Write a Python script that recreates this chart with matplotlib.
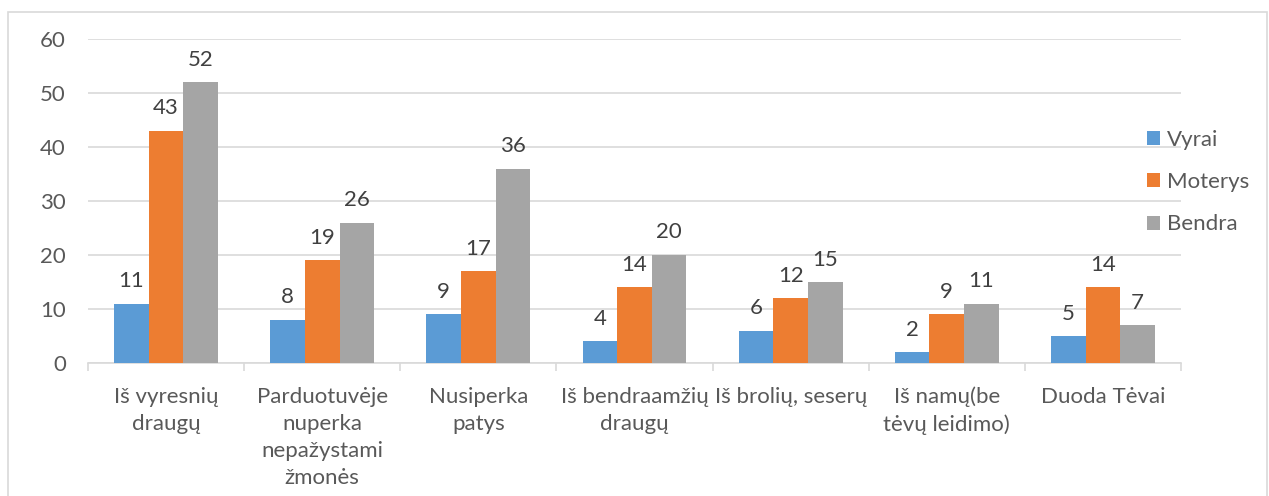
import matplotlib
matplotlib.use("Agg")
import matplotlib.pyplot as plt
import numpy as np
from matplotlib.patches import Rectangle

categories = ["Iš vyresnių\ndraugų", "Parduotuvėje\nnuperka\nnepažystami\nžmonės",
              "Nusiperka\npatys", "Iš bendraamžių\ndraugų", "Iš brolių, seserų",
              "Iš namų(be\ntėvų leidimo)", "Duoda Tėvai"]
series_names = ["Vyrai", "Moterys", "Bendra"]
vyrai = [11, 8, 9, 4, 6, 2, 5]
moterys = [43, 19, 17, 14, 12, 9, 14]
bendra = [52, 26, 36, 20, 15, 11, 7]
colors = ["#5b9bd5", "#ed7d31", "#a5a5a5"]
yticks = [0, 10, 20, 30, 40, 50, 60]

txt = "#595959"
fs = 16
plt.rcParams['font.family'] = ['Lato', 'DejaVu Sans']

fig = plt.figure(figsize=(12.69, 4.96), dpi=100)
fig.patches.append(Rectangle((8/1269, -0.01), 1259/1269, 1 - 12/496 + 0.01,
                             transform=fig.transFigure, fill=False,
                             edgecolor="#d9d9d9", linewidth=1.2))
ax = fig.add_axes([88/1269, 1 - 363/496, (1181 - 88)/1269, (363 - 39)/496])

x = np.arange(len(categories))
w = 0.222
for i, (vals, name, c) in enumerate(zip([vyrai, moterys, bendra], series_names, colors)):
    pos = x + (i - 1) * w
    bars = ax.bar(pos, vals, width=w, color=c, label=name, zorder=3)
    for b, v in zip(bars, vals):
        ax.annotate(str(v), (b.get_x() + b.get_width() / 2, v), xytext=(0, 9),
                    textcoords="offset points", ha="center", va="bottom",
                    fontsize=fs, color="#404040")

ax.set_xlim(-0.5, len(categories) - 0.5)
ax.set_ylim(0, 60)
ax.set_yticks(yticks)
ax.set_yticklabels([str(t) for t in yticks], fontsize=fs, color=txt)
ax.yaxis.grid(True, color="#d9d9d9", linewidth=1.2, zorder=0)
ax.tick_params(axis="y", length=0, pad=16)
ax.set_xticks(x)
ax.set_xticklabels(categories, fontsize=fs, color=txt, linespacing=1.45)
ax.tick_params(axis="x", which="major", length=0, pad=17)
ax.set_xticks(np.arange(len(categories) + 1) - 0.5, minor=True)
ax.tick_params(axis="x", which="minor", length=6, color="#d9d9d9", width=1.2)
for s in ["top", "right", "left"]:
    ax.spines[s].set_visible(False)
ax.spines["bottom"].set_color("#d9d9d9")
ax.spines["bottom"].set_linewidth(1.2)

leg = ax.legend(loc="upper left", bbox_to_anchor=(1127/1269, 1 - 110/496),
                bbox_transform=fig.transFigure, frameon=False,
                handlelength=0.6, handleheight=0.6, handletextpad=0.3,
                labelspacing=1.0, fontsize=fs, labelcolor=txt)

fig.savefig("out.png", dpi=100)
